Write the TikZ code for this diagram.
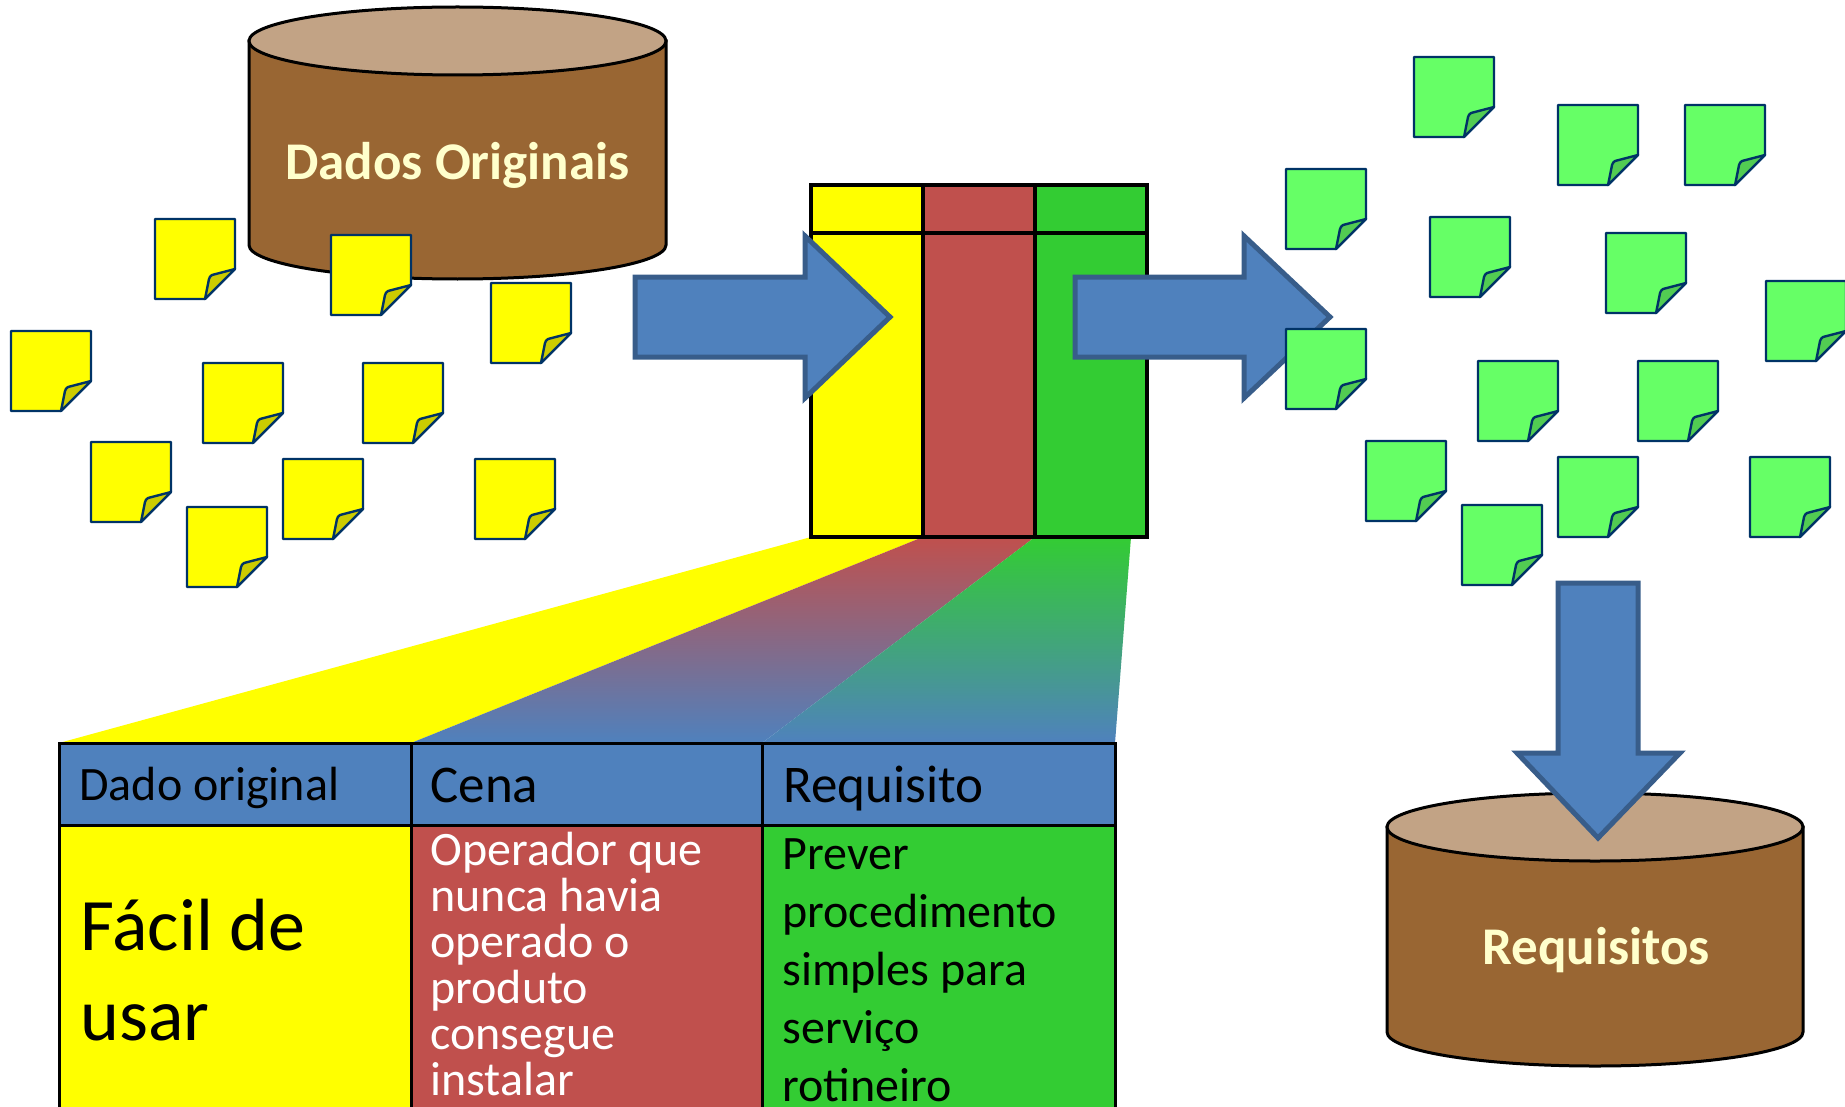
\documentclass[tikz,border=0pt]{standalone}
\usepackage{fontspec}
\setmainfont{Carlito}
\usepackage{xcolor}
\definecolor{barrel}{HTML}{996633}
\definecolor{barreltop}{HTML}{C2A385}
\definecolor{cream}{HTML}{FFFFCC}
\definecolor{cellblue}{HTML}{4F81BD}
\definecolor{arrowedge}{HTML}{385D8A}
\definecolor{cellred}{HTML}{C0504D}
\definecolor{cellgreen}{HTML}{33CC33}
\definecolor{cellyellow}{HTML}{FFFF00}
\definecolor{noteedge}{HTML}{003366}
\definecolor{notegreen}{HTML}{66FF66}
\tikzset{
    barrelpen/.style={draw=black, line width=1.5pt},
    cellpen/.style={draw=black, line width=1.5pt},
    cardpen/.style={draw=black, line width=1.8pt},
    blockarrow/.style={draw=arrowedge, fill=cellblue, line width=2.5pt, miter limit=10},
    celltext/.style={anchor=west, align=left, inner sep=0pt},
    headtext/.style={anchor=base west, inner sep=0pt},
    barreltext/.style={text=cream, font=\fontsize{26.5}{32}\selectfont\bfseries, inner sep=0pt},
    pics/stickynote/.style={code={
        \draw[draw=noteedge, line width=1.2pt, line join=round, fill=#1] (0,0)--(80,0)--(80,50)--(50,80)--(0,80)--cycle;
        \draw[draw=noteedge, line width=1.2pt, line join=round, fill=#1!80!black] (80,50)--(57,56) .. controls (55,57) and (55,58) .. (54,60)--(50,80)--cycle;
    }},
}
\begin{document}
\begin{tikzpicture}[x=.5pt,y=-.5pt]
    \useasboundingbox (0,0) rectangle (1845,1107);
    \clip (0,0) rectangle (1845,1107);
    % barrel with the original data
    \draw[barrelpen, fill=barrel] (249,41)--(249,245) arc[start angle=180, end angle=360, x radius=208.5, y radius=-34]--(666,41)--cycle;
    \draw[barrelpen, fill=barreltop] (457.5,41) ellipse[x radius=208.5, y radius=34];
    \node[barreltext] (dados) at (457.5,165) {Dados Originais};
    \foreach \px/\py in {155/219,331/235,491/283,11/331,203/363,363/363,91/442,283/459,475/459,187/507}
        \pic at (\px,\py) {stickynote=cellyellow};
    % fans from the small card down to the table
    \fill[cellyellow] (811,537)--(923,537)--(411,743)--(59,743)--cycle;
    \shade[top color=cellred, bottom color=cellblue] (923,537)--(1035,537)--(762,743)--(411,743)--cycle;
    \shade[top color=cellgreen, bottom color=cellblue] (1035,537)--(1131,537)--(1115,743)--(762,743)--cycle;
    % small card
    \draw[cardpen, fill=cellyellow] (811,185) rectangle (923,537);
    \draw[cardpen, fill=cellred] (923,185) rectangle (1035,537);
    \draw[cardpen, fill=cellgreen] (1035,185) rectangle (1147,537);
    \draw[cardpen] (811,233)--(1147,233);
    % table
    \draw[cellpen, fill=cellblue] (59,743) rectangle (411,825);
    \draw[cellpen, fill=cellblue] (411,743) rectangle (762,825);
    \draw[cellpen, fill=cellblue] (762,743) rectangle (1115,825);
    \draw[cellpen, fill=cellyellow] (59,825) rectangle (411,1120);
    \draw[cellpen, fill=cellred] (411,825) rectangle (762,1120);
    \draw[cellpen, fill=cellgreen] (762,825) rectangle (1115,1120);
    \node[headtext, font=\fontsize{24}{29}\selectfont] (dado) at (79,800) {Dado original};
    \node[headtext, font=\fontsize{26.5}{32}\selectfont] (cena) at (430,802) {Cena};
    \node[headtext, font=\fontsize{26.5}{32}\selectfont] (requisito) at (783,802) {Requisito};
    \node[celltext, font=\fontsize{37}{45}\selectfont] (facil) at (80,970) {Fácil de\\usar};
    \node[celltext, text=white, font=\fontsize{24}{23}\selectfont] (operador) at (430,964) {Operador que\\nunca havia\\operado o\\produto\\consegue\\instalar};
    \node[celltext, font=\fontsize{24}{29}\selectfont] (prever) at (782,970) {Prever\\procedimento\\simples para\\serviço\\rotineiro};
    % arrows
    \draw[blockarrow] (635,277)--(805,277)--(805,236)--(890,317)--(805,398)--(805,357)--(635,357)--cycle;
    \draw[blockarrow] (1075,277)--(1244,277)--(1244,236)--(1330,317)--(1244,398)--(1244,357)--(1075,357)--cycle;
    \foreach \px/\py in {1414/57,1558/105,1685/105,1286/169,1430/217,1606/233,1766/281,1286/329,1478/361,1638/361,1366/441,1558/457,1750/457,1462/505}
        \pic at (\px,\py) {stickynote=notegreen};
    % barrel with the requirements
    \draw[barrelpen, fill=barrel] (1387,827)--(1387,1032) arc[start angle=180, end angle=360, x radius=208, y radius=-34]--(1803,827)--cycle;
    \draw[barrelpen, fill=barreltop] (1595,827) ellipse[x radius=208, y radius=34];
    \node[barreltext] (requisitos) at (1596,950) {Requisitos};
    \draw[blockarrow] (1558,583)--(1638,583)--(1638,753)--(1680,753)--(1598,838)--(1517,753)--(1558,753)--cycle;
\end{tikzpicture}
\end{document}
